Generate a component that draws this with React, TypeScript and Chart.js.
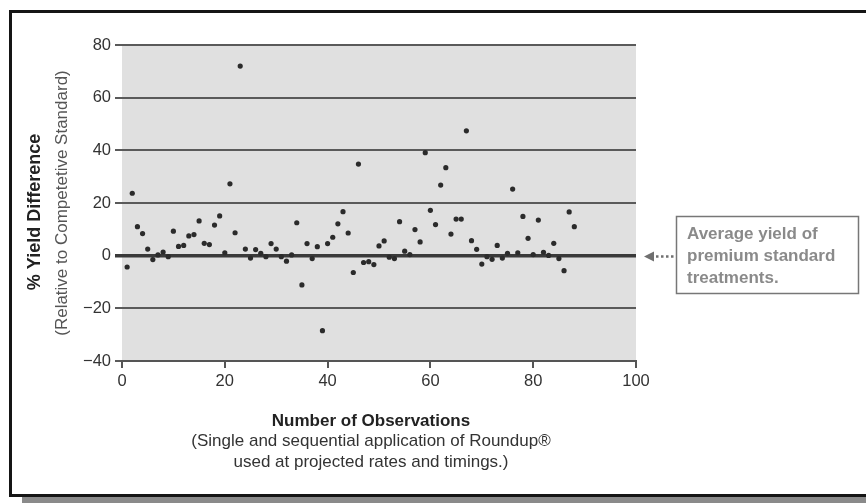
import React, { useEffect, useRef } from "react";
import { Chart, registerables } from "chart.js";

Chart.register(...registerables);

// Observation number (x) and % yield difference (y)
const observations: number[] = [
  1, 2, 3, 4, 5, 6, 7, 8, 9, 10, 11, 12, 13, 14, 15, 16, 17, 18, 19, 20, 21, 22,
  23, 24, 25, 26, 27, 28, 29, 30, 31, 32, 33, 34, 35, 36, 37, 38, 39, 40, 41, 42,
  43, 44, 45, 46, 47, 48, 49, 50, 51, 52, 53, 54, 55, 56, 57, 58, 59, 60, 61, 62,
  63, 64, 65, 66, 67, 68, 69, 70, 71, 72, 73, 74, 75, 76, 77, 78, 79, 80, 81, 82,
  83, 84, 85, 86, 87, 88,
];
const yieldDifference: number[] = [
  -4.3, 23.7, 11, 8.4, 2.5, -1.5, 0.3, 1.4, -0.4, 9.3, 3.5, 3.9, 7.5, 8.0, 13.2,
  4.7, 4.2, 11.6, 15.1, 1.1, 27.3, 8.7, 72, 2.5, -0.9, 2.3, 0.9, -0.4, 4.6, 2.5,
  -0.4, -2.1, 0.3, 12.5, -11.1, 4.6, -1.1, 3.4, -28.5, 4.6, 7.0, 12.1, 16.7, 8.6,
  -6.4, 34.8, -2.6, -2.3, -3.4, 3.7, 5.6, -0.6, -1.1, 12.9, 1.7, 0.4, 9.9, 5.2,
  39.1, 17.2, 11.8, 26.8, 33.4, 8.2, 13.9, 13.9, 47.4, 5.7, 2.4, -3.2, -0.4, -1.4,
  3.9, -0.9, 0.9, 25.3, 1.1, 14.9, 6.6, 0.4, 13.5, 1.3, 0.1, 4.7, -1.1, -5.7, 16.6,
  11,
];

const xAxisMin = 0;
const xAxisMax = 100;
const xAxisStep = 20;
const yAxisMin = -40;
const yAxisMax = 80;
const yAxisStep = 20;

const yTitle = "% Yield Difference";
const ySubtitle = "(Relative to Competetive Standard)";
const xTitle = "Number of Observations";
const xSubtitleLines = [
  "(Single and sequential application of Roundup®",
  "used at projected rates and timings.)",
];
const annotationLines = ["Average yield of", "premium standard", "treatments."];

const FONT = '"Liberation Sans", Arial, Helvetica, sans-serif';

const plotBackground = {
  id: "plotBackground",
  beforeDraw(chart: any) {
    const { ctx, chartArea } = chart;
    ctx.save();
    ctx.fillStyle = "#e0e0e0";
    ctx.fillRect(
      chartArea.left,
      chartArea.top,
      chartArea.right - chartArea.left,
      chartArea.bottom - chartArea.top
    );
    ctx.restore();
  },
};

const textDecor = {
  id: "textDecor",
  afterDraw(chart: any) {
    const { ctx } = chart;
    const yScale = chart.scales.y;
    ctx.save();

    // Y axis titles (rotated)
    ctx.save();
    ctx.translate(35, 212);
    ctx.rotate(-Math.PI / 2);
    ctx.textAlign = "center";
    ctx.textBaseline = "middle";
    ctx.fillStyle = "#222";
    ctx.font = `bold 18px ${FONT}`;
    ctx.fillText(yTitle, 0, 0);
    ctx.restore();

    ctx.save();
    ctx.translate(62, 203);
    ctx.rotate(-Math.PI / 2);
    ctx.textAlign = "center";
    ctx.textBaseline = "middle";
    ctx.fillStyle = "#555";
    ctx.font = `17px ${FONT}`;
    ctx.fillText(ySubtitle, 0, 0);
    ctx.restore();

    // X axis titles
    ctx.textAlign = "center";
    ctx.textBaseline = "alphabetic";
    ctx.fillStyle = "#222";
    ctx.font = `bold 17px ${FONT}`;
    ctx.fillText(xTitle, 371, 426);
    ctx.fillStyle = "#333";
    ctx.font = `17px ${FONT}`;
    ctx.fillText(xSubtitleLines[0], 371, 446);
    ctx.fillText(xSubtitleLines[1], 371, 467);

    // Annotation: arrow pointing at the zero (average) line
    const y0 = Math.round(yScale.getPixelForValue(0)) + 0.5;
    ctx.fillStyle = "#707070";
    ctx.strokeStyle = "#707070";
    ctx.beginPath();
    ctx.moveTo(644, y0);
    ctx.lineTo(654, y0 - 5);
    ctx.lineTo(654, y0 + 5);
    ctx.closePath();
    ctx.fill();
    ctx.lineWidth = 2.5;
    ctx.setLineDash([2.5, 2.5]);
    ctx.beginPath();
    ctx.moveTo(656, y0);
    ctx.lineTo(676, y0);
    ctx.stroke();
    ctx.setLineDash([]);

    // Annotation box
    ctx.lineWidth = 1.5;
    ctx.strokeStyle = "#777";
    ctx.strokeRect(676.5, 216.5, 182, 77);
    ctx.textAlign = "left";
    ctx.fillStyle = "#8a8a8a";
    ctx.font = `bold 17px ${FONT}`;
    ctx.fillText(annotationLines[0], 687, 239);
    ctx.fillText(annotationLines[1], 687, 261);
    ctx.fillText(annotationLines[2], 687, 283);

    ctx.restore();
  },
};

export default function App() {
  const canvasRef = useRef<HTMLCanvasElement | null>(null);

  useEffect(() => {
    if (!canvasRef.current) return;
    const points = observations.map((x, i) => ({ x, y: yieldDifference[i] }));
    const chart = new Chart(canvasRef.current, {
      type: "scatter",
      data: {
        datasets: [
          {
            data: points,
            backgroundColor: "#2b2b2b",
            borderWidth: 0,
            pointRadius: 2.6,
            pointHoverRadius: 2.6,
          },
        ],
      },
      options: {
        responsive: false,
        animation: false,
        events: [],
        layout: { padding: { left: 0, top: 45, right: 230, bottom: 0 } },
        plugins: {
          legend: { display: false },
          tooltip: { enabled: false },
        },
        scales: {
          x: {
            type: "linear",
            min: xAxisMin,
            max: xAxisMax,
            ticks: {
              stepSize: xAxisStep,
              color: "#333",
              font: { family: FONT, size: 16.5 },
              padding: 4,
            },
            grid: {
              drawOnChartArea: false,
              drawTicks: true,
              tickLength: 7,
              color: "#555",
              lineWidth: 2,
            },
            border: { display: true, color: "#555", width: 2 },
            afterFit: (s: any) => {
              s.height = 142;
            },
          },
          y: {
            type: "linear",
            min: yAxisMin,
            max: yAxisMax,
            ticks: {
              stepSize: yAxisStep,
              color: "#333",
              font: { family: FONT, size: 16.5 },
              padding: 4,
              callback: (v: any) =>
                Number(v) < 0 ? "\u2212" + Math.abs(Number(v)) : String(v),
            },
            grid: {
              drawOnChartArea: true,
              drawTicks: true,
              tickLength: 7,
              color: (c: any) => (c.tick && c.tick.value === 0 ? "#3a3a3a" : "#5a5a5a"),
              lineWidth: (c: any) => (c.tick && c.tick.value === 0 ? 3.5 : 2),
            },
            border: { display: false },
            afterFit: (s: any) => {
              s.width = 122;
            },
          },
        },
      },
      plugins: [plotBackground, textDecor],
    } as any);
    return () => chart.destroy();
  }, []);

  return (
    <div
      style={{
        position: "fixed",
        left: 0,
        top: 0,
        width: 866,
        height: 503,
        overflow: "hidden",
        background: "#fff",
      }}
    >
      <div
        style={{
          position: "absolute",
          left: 22,
          top: 497,
          width: 900,
          height: 8,
          background: "#8a8a8a",
        }}
      />
      <div
        style={{
          position: "absolute",
          left: 9,
          top: 10,
          width: 900,
          height: 487,
          border: "3px solid #151515",
          boxSizing: "border-box",
        }}
      />
      <canvas
        ref={canvasRef}
        width={866}
        height={503}
        style={{ position: "absolute", left: 0, top: 0, width: 866, height: 503 }}
      />
    </div>
  );
}
